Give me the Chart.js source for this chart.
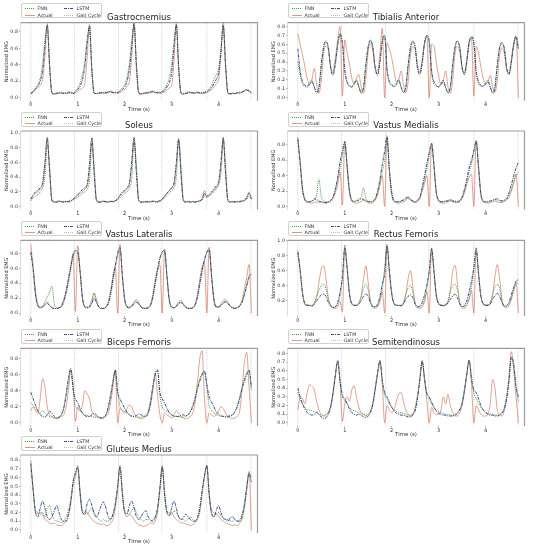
<!DOCTYPE html>
<html>
<head>
<meta charset="utf-8">
<script src="https://cdn.jsdelivr.net/npm/chart.js@4.4.0/dist/chart.umd.min.js"></script>
<style>
  body { margin: 0; background: #fff; }
  #fig { position: relative; width: 533px; height: 550px; overflow: hidden; font-family: 'DejaVu Sans', sans-serif; }
  .panel { position: absolute; }
  .legend { position: absolute; width: 81px; height: 15px; box-sizing: border-box; border: 0.6px solid #d0d0d0; border-radius: 2px; background: #fff; z-index: 2; }
  .legend .it { position: absolute; font-size: 4.8px; line-height: 5px; color: #333; white-space: nowrap; }
  .legend svg { vertical-align: middle; margin-right: 3px; }
</style>
</head>
<body>
<div id="fig"></div>
<script>
// time axis (s)
const TIME = [
  0,.05,.1,.15,.2,.25,.3,.35,.4,.45,
  .5,.55,.6,.65,.7,.75,.8,.85,.9,.95,
  1,1.05,1.1,1.15,1.2,1.25,1.3,1.35,1.4,1.45,
  1.5,1.55,1.6,1.65,1.7,1.75,1.8,1.85,1.9,1.95,
  2,2.05,2.1,2.15,2.2,2.25,2.3,2.35,2.4,2.45,
  2.5,2.55,2.6,2.65,2.7,2.75,2.8,2.85,2.9,2.95,
  3,3.05,3.1,3.15,3.2,3.25,3.3,3.35,3.4,3.45,
  3.5,3.55,3.6,3.65,3.7,3.75,3.8,3.85,3.9,3.95,
  4,4.05,4.1,4.15,4.2,4.25,4.3,4.35,4.4,4.45,
  4.5,4.55,4.6,4.65,4.7
];
const GAIT_CYCLE = [0, 0.93, 1.87, 2.79, 3.75, 4.69];

// Gastrocnemius
const GA_ACTUAL = [
  .05,.07,.10,.12,.15,.22,.50,.90,.40,.05,
  .04,.05,.06,.05,.06,.05,.07,.06,.05,.06,
  .08,.10,.12,.18,.48,.89,.35,.05,.05,.06,
  .05,.06,.07,.06,.08,.07,.06,.06,.06,.08,
  .10,.14,.20,.50,.91,.40,.05,.04,.05,.06,
  .05,.07,.08,.06,.07,.05,.06,.07,.09,.12,
  .15,.45,.90,.38,.05,.04,.05,.06,.07,.06,
  .05,.07,.06,.05,.06,.06,.08,.10,.13,.17,
  .22,.50,.91,.40,.05,.04,.05,.05,.06,.05,
  .07,.09,.10,.08,.05];
const GA_FNN = [
  .06,.08,.12,.16,.24,.40,.70,.86,.35,.06,
  .05,.06,.05,.07,.06,.05,.06,.07,.06,.08,
  .12,.18,.28,.45,.72,.85,.30,.06,.05,.06,
  .07,.06,.05,.07,.08,.06,.07,.06,.09,.12,
  .16,.25,.42,.70,.88,.35,.06,.05,.06,.05,
  .07,.06,.08,.07,.06,.07,.08,.11,.16,.24,
  .40,.68,.87,.33,.06,.05,.06,.07,.06,.05,
  .06,.07,.05,.06,.07,.08,.11,.15,.22,.28,
  .35,.60,.86,.35,.06,.05,.06,.05,.06,.07,
  .06,.08,.10,.09,.06];
const GA_LSTM = [
  .05,.07,.11,.14,.20,.32,.62,.88,.40,.06,
  .05,.05,.06,.06,.05,.06,.06,.06,.05,.07,
  .10,.14,.22,.38,.66,.87,.35,.06,.05,.05,
  .06,.06,.06,.07,.07,.06,.06,.06,.08,.10,
  .13,.20,.34,.62,.90,.40,.06,.05,.05,.06,
  .06,.07,.07,.06,.06,.06,.07,.09,.13,.18,
  .30,.60,.89,.38,.06,.05,.05,.06,.06,.06,
  .06,.06,.06,.06,.06,.07,.09,.12,.17,.22,
  .30,.55,.88,.40,.06,.05,.05,.05,.06,.06,
  .07,.08,.09,.08,.06];

// Tibialis Anterior
const TA_ACTUAL = [
  .72,.60,.48,.35,.22,.15,.20,.33,.15,.05,
  .20,.50,.58,.55,.35,.30,.45,.65,.80,.02,
  .65,.50,.38,.22,.16,.22,.26,.12,.05,.22,
  .52,.60,.52,.33,.30,.50,.78,.00,.62,.55,
  .45,.30,.18,.20,.30,.15,.05,.18,.48,.57,
  .55,.36,.30,.42,.62,.70,.00,.60,.58,.40,
  .25,.15,.20,.30,.12,.05,.20,.50,.58,.52,
  .34,.28,.45,.63,.68,.02,.58,.50,.35,.22,
  .15,.18,.25,.12,.06,.20,.48,.56,.50,.32,
  .28,.44,.62,.68,.00];
const TA_FNN = [
  .40,.25,.15,.13,.13,.18,.20,.12,.05,.10,
  .35,.55,.62,.58,.35,.28,.40,.58,.70,.60,
  .28,.16,.13,.12,.17,.20,.13,.05,.10,.35,
  .56,.63,.57,.34,.27,.42,.62,.68,.30,.16,
  .14,.13,.17,.21,.12,.06,.10,.34,.54,.62,
  .58,.35,.28,.41,.60,.68,.62,.28,.15,.13,
  .12,.16,.20,.12,.05,.11,.35,.55,.63,.58,
  .35,.27,.40,.60,.67,.60,.27,.16,.13,.13,
  .17,.20,.12,.05,.10,.36,.55,.60,.56,.34,
  .27,.40,.58,.68,.55];
const TA_LSTM = [
  .55,.30,.18,.14,.12,.15,.18,.12,.06,.12,
  .38,.58,.64,.55,.33,.25,.38,.60,.72,.62,
  .32,.18,.14,.12,.15,.19,.12,.06,.12,.38,
  .58,.65,.55,.33,.25,.40,.64,.70,.33,.19,
  .15,.12,.15,.19,.12,.06,.12,.37,.57,.64,
  .56,.33,.26,.39,.62,.70,.64,.31,.18,.14,
  .12,.15,.18,.11,.06,.12,.38,.58,.64,.56,
  .34,.26,.40,.62,.69,.62,.30,.18,.14,.13,
  .15,.18,.12,.06,.12,.37,.57,.62,.55,.33,
  .26,.40,.60,.70,.55];

// Soleus
const SO_ACTUAL = [
  .10,.15,.18,.20,.24,.30,.55,.95,.50,.08,
  .06,.07,.08,.07,.06,.07,.06,.07,.10,.12,
  .15,.18,.20,.24,.28,.50,.94,.45,.08,.06,
  .07,.08,.06,.07,.07,.06,.08,.10,.15,.18,
  .20,.24,.30,.55,.95,.48,.08,.06,.07,.06,
  .07,.06,.08,.07,.06,.08,.10,.14,.18,.22,
  .25,.30,.55,.93,.45,.08,.06,.07,.06,.07,
  .06,.07,.08,.10,.22,.12,.15,.18,.22,.26,
  .30,.55,.95,.45,.08,.06,.07,.06,.07,.06,
  .07,.08,.12,.20,.10];
const SO_FNN = [
  .08,.12,.14,.16,.20,.25,.40,.85,.55,.10,
  .07,.06,.07,.06,.07,.06,.07,.08,.09,.11,
  .13,.15,.18,.20,.24,.35,.85,.55,.10,.07,
  .06,.07,.06,.06,.07,.07,.08,.09,.12,.15,
  .18,.20,.25,.38,.88,.55,.10,.07,.06,.06,
  .07,.06,.07,.07,.06,.07,.09,.12,.15,.18,
  .22,.25,.40,.88,.55,.10,.07,.06,.07,.06,
  .06,.07,.07,.09,.14,.13,.15,.17,.20,.24,
  .30,.45,.88,.55,.10,.07,.06,.07,.06,.07,
  .07,.08,.10,.14,.12];
const SO_LSTM = [
  .10,.16,.20,.22,.26,.32,.60,.93,.48,.08,
  .06,.06,.07,.07,.06,.07,.07,.08,.10,.13,
  .16,.20,.23,.26,.30,.58,.93,.45,.08,.06,
  .06,.07,.07,.06,.07,.07,.08,.11,.15,.20,
  .22,.26,.32,.62,.93,.45,.08,.06,.06,.07,
  .06,.07,.07,.06,.07,.08,.10,.14,.18,.22,
  .26,.32,.60,.92,.45,.08,.06,.07,.06,.07,
  .06,.07,.08,.10,.18,.14,.17,.20,.24,.28,
  .34,.60,.93,.45,.08,.06,.07,.06,.07,.07,
  .08,.09,.12,.18,.10];

// Vastus Medialis
const VM_ACTUAL = [
  .90,.55,.20,.08,.05,.05,.04,.05,.06,.05,
  .06,.05,.04,.05,.06,.10,.18,.28,.45,.02,
  .85,.50,.18,.07,.05,.04,.05,.06,.08,.07,
  .05,.04,.05,.08,.15,.28,.40,.00,.92,.45,
  .15,.06,.05,.04,.05,.06,.08,.12,.10,.06,
  .05,.06,.10,.20,.30,.40,.00,.82,.55,.18,
  .07,.05,.04,.05,.06,.07,.06,.05,.05,.06,
  .10,.18,.28,.38,.42,.00,.86,.50,.15,.06,
  .05,.04,.05,.06,.07,.06,.05,.05,.06,.08,
  .12,.20,.30,.42,.00];
const VM_FNN = [
  .85,.60,.25,.10,.07,.06,.07,.08,.15,.35,
  .12,.07,.06,.06,.08,.12,.22,.35,.50,.65,
  .82,.55,.22,.09,.07,.08,.10,.12,.25,.10,
  .07,.06,.07,.10,.18,.30,.45,.60,.88,.50,
  .20,.08,.06,.06,.07,.09,.12,.10,.08,.07,
  .06,.08,.12,.22,.35,.50,.65,.80,.55,.20,
  .08,.06,.06,.07,.08,.09,.08,.07,.07,.08,
  .12,.20,.32,.45,.55,.70,.84,.55,.18,.08,
  .06,.06,.07,.08,.09,.08,.07,.07,.08,.10,
  .15,.22,.32,.40,.45];
const VM_LSTM = [
  .88,.55,.22,.09,.06,.06,.07,.10,.09,.07,
  .06,.05,.05,.06,.08,.12,.22,.38,.58,.72,
  .84,.52,.20,.08,.06,.07,.08,.10,.09,.07,
  .06,.06,.07,.10,.20,.35,.55,.72,.90,.48,
  .18,.07,.06,.06,.07,.08,.10,.12,.09,.07,
  .06,.08,.12,.25,.40,.56,.70,.82,.52,.18,
  .08,.06,.06,.07,.07,.08,.07,.06,.06,.07,
  .12,.22,.35,.50,.60,.72,.85,.50,.16,.07,
  .06,.06,.07,.08,.09,.10,.08,.07,.08,.10,
  .18,.28,.40,.50,.57];

// Vastus Lateralis
const VL_ACTUAL = [
  .92,.60,.25,.10,.07,.08,.12,.15,.10,.07,
  .06,.06,.07,.10,.18,.30,.45,.62,.80,.02,
  .90,.55,.20,.08,.07,.08,.15,.27,.15,.08,
  .06,.06,.08,.15,.30,.50,.62,.00,.92,.50,
  .18,.08,.07,.10,.15,.18,.14,.08,.06,.06,
  .07,.12,.25,.45,.60,.65,.00,.86,.50,.18,
  .08,.07,.10,.15,.17,.12,.08,.06,.06,.07,
  .12,.25,.45,.62,.68,.00,.88,.50,.18,.08,
  .08,.12,.17,.18,.14,.09,.07,.06,.07,.10,
  .18,.32,.48,.65,.00];
const VL_FNN = [
  .80,.62,.30,.12,.08,.10,.15,.22,.28,.36,
  .12,.07,.07,.08,.14,.25,.40,.58,.75,.82,
  .80,.58,.22,.09,.08,.10,.18,.26,.18,.09,
  .07,.07,.08,.12,.24,.42,.60,.78,.85,.52,
  .20,.09,.08,.10,.14,.16,.13,.08,.07,.07,
  .07,.10,.20,.38,.55,.72,.80,.82,.50,.18,
  .08,.07,.09,.13,.15,.11,.08,.07,.07,.07,
  .10,.20,.38,.55,.70,.80,.84,.52,.20,.09,
  .08,.10,.14,.16,.13,.09,.07,.07,.08,.10,
  .15,.26,.38,.50,.52];
const VL_LSTM = [
  .82,.58,.24,.10,.07,.08,.11,.13,.10,.07,
  .06,.06,.07,.09,.16,.28,.45,.62,.78,.84,
  .82,.55,.20,.08,.07,.08,.13,.20,.14,.08,
  .06,.06,.08,.13,.26,.46,.64,.80,.88,.50,
  .18,.08,.07,.09,.12,.14,.12,.08,.06,.06,
  .07,.10,.22,.40,.58,.74,.82,.84,.50,.17,
  .08,.07,.09,.12,.14,.11,.08,.06,.06,.07,
  .11,.22,.40,.58,.72,.82,.86,.50,.18,.08,
  .08,.10,.13,.15,.13,.09,.07,.06,.07,.09,
  .14,.24,.36,.48,.52];

// Rectus Femoris
const RF_ACTUAL = [
  .83,.55,.25,.12,.10,.10,.09,.12,.20,.40,
  .58,.62,.45,.20,.10,.07,.06,.08,.15,.02,
  .90,.60,.25,.12,.10,.10,.12,.22,.45,.62,
  .40,.15,.08,.06,.08,.15,.28,.00,.91,.55,
  .25,.12,.10,.10,.09,.12,.25,.45,.56,.35,
  .12,.07,.06,.08,.15,.28,.00,.86,.55,.22,
  .12,.10,.09,.10,.14,.30,.55,.63,.40,.14,
  .07,.06,.10,.18,.30,.00,.84,.50,.22,.12,
  .10,.10,.12,.25,.48,.64,.45,.18,.08,.07,
  .10,.18,.30,.40,.00];
const RF_FNN = [
  .78,.58,.28,.13,.11,.10,.10,.14,.22,.30,
  .36,.38,.32,.18,.10,.08,.08,.12,.22,.45,
  .85,.62,.28,.13,.11,.10,.14,.22,.32,.38,
  .30,.15,.09,.08,.10,.18,.32,.60,.88,.58,
  .28,.13,.11,.10,.10,.14,.24,.33,.36,.28,
  .14,.08,.08,.10,.18,.32,.55,.82,.58,.25,
  .13,.11,.10,.11,.16,.28,.36,.38,.30,.14,
  .08,.08,.12,.20,.34,.58,.80,.55,.25,.13,
  .11,.11,.14,.24,.34,.38,.32,.16,.09,.09,
  .12,.20,.30,.38,.40];
const RF_LSTM = [
  .80,.56,.26,.12,.10,.10,.09,.12,.16,.20,
  .24,.25,.22,.14,.09,.07,.08,.14,.28,.48,
  .86,.58,.25,.12,.10,.10,.12,.16,.22,.25,
  .22,.13,.08,.08,.12,.22,.38,.52,.88,.55,
  .26,.12,.10,.10,.10,.12,.18,.22,.24,.20,
  .12,.08,.09,.14,.24,.38,.55,.85,.55,.24,
  .12,.10,.10,.11,.13,.18,.22,.25,.20,.12,
  .08,.10,.16,.28,.42,.60,.86,.52,.22,.12,
  .10,.10,.12,.18,.23,.26,.22,.14,.09,.10,
  .14,.24,.34,.42,.44];

// Biceps Femoris
const BF_ACTUAL = [
  .15,.20,.15,.12,.30,.55,.45,.20,.10,.08,
  .06,.05,.06,.08,.10,.20,.40,.65,.50,.02,
  .20,.15,.22,.40,.36,.30,.15,.10,.08,.07,
  .06,.05,.08,.12,.25,.45,.65,.00,.18,.15,
  .12,.18,.22,.20,.12,.08,.06,.05,.06,.08,
  .12,.22,.40,.62,.35,.10,.00,.12,.10,.08,
  .06,.10,.15,.12,.08,.06,.05,.06,.08,.12,
  .25,.50,.80,.90,.30,.00,.12,.10,.08,.10,
  .15,.20,.18,.12,.08,.06,.05,.06,.08,.15,
  .40,.75,.88,.45,.00];
const BF_FNN = [
  .25,.22,.18,.14,.12,.15,.12,.10,.08,.07,
  .06,.06,.07,.10,.18,.32,.50,.66,.45,.20,
  .18,.15,.12,.10,.09,.08,.08,.07,.07,.06,
  .06,.07,.10,.18,.32,.50,.66,.40,.20,.16,
  .14,.12,.10,.09,.08,.07,.07,.07,.08,.10,
  .15,.28,.45,.62,.66,.35,.20,.16,.14,.12,
  .10,.09,.08,.08,.07,.07,.08,.10,.15,.22,
  .32,.45,.55,.62,.65,.45,.22,.16,.12,.10,
  .09,.08,.08,.07,.07,.08,.10,.14,.22,.32,
  .45,.55,.62,.65,.40];
const BF_LSTM = [
  .38,.30,.22,.15,.10,.08,.07,.10,.14,.12,
  .08,.06,.07,.10,.18,.35,.55,.68,.42,.30,
  .25,.18,.12,.09,.08,.08,.10,.12,.10,.07,
  .06,.07,.10,.20,.35,.52,.66,.38,.30,.24,
  .18,.13,.10,.08,.08,.09,.11,.10,.08,.08,
  .12,.25,.45,.60,.66,.38,.30,.25,.18,.13,
  .10,.08,.08,.08,.09,.10,.09,.10,.14,.20,
  .30,.42,.52,.60,.64,.48,.32,.26,.20,.14,
  .11,.09,.08,.08,.08,.09,.10,.14,.20,.30,
  .42,.52,.60,.66,.45];

// Semitendinosus
const ST_ACTUAL = [
  .15,.30,.28,.22,.35,.44,.42,.38,.25,.15,
  .10,.08,.10,.12,.20,.35,.55,.70,.45,.02,
  .22,.30,.25,.38,.43,.30,.18,.12,.10,.08,
  .10,.14,.22,.38,.55,.70,.45,.00,.20,.15,
  .12,.15,.25,.33,.35,.25,.15,.10,.08,.10,
  .18,.32,.50,.70,.50,.25,.00,.18,.12,.10,
  .10,.15,.30,.22,.33,.20,.12,.08,.08,.12,
  .20,.35,.55,.72,.45,.00,.20,.15,.10,.08,
  .08,.10,.22,.50,.40,.15,.10,.08,.15,.30,
  .55,.82,.60,.30,.00];
const ST_FNN = [
  .35,.28,.22,.18,.15,.15,.14,.13,.12,.10,
  .09,.08,.09,.12,.20,.35,.55,.70,.50,.30,
  .26,.22,.18,.15,.14,.13,.12,.11,.10,.09,
  .10,.14,.24,.40,.58,.70,.50,.32,.28,.22,
  .18,.15,.13,.12,.12,.11,.10,.09,.09,.11,
  .16,.30,.50,.70,.52,.32,.28,.22,.18,.15,
  .13,.12,.11,.10,.10,.09,.09,.10,.12,.16,
  .24,.38,.56,.72,.55,.34,.28,.22,.18,.15,
  .12,.11,.10,.10,.09,.09,.10,.12,.18,.30,
  .50,.75,.65,.40,.25];
const ST_LSTM = [
  .40,.30,.22,.16,.12,.10,.09,.10,.12,.10,
  .07,.05,.06,.10,.18,.34,.55,.72,.48,.32,
  .28,.22,.16,.12,.10,.09,.10,.09,.07,.06,
  .08,.12,.22,.40,.58,.72,.48,.35,.30,.24,
  .18,.14,.11,.10,.09,.09,.08,.07,.07,.09,
  .14,.28,.50,.72,.50,.34,.30,.24,.18,.14,
  .11,.10,.09,.09,.08,.08,.08,.09,.11,.15,
  .22,.38,.56,.72,.50,.38,.35,.28,.20,.15,
  .12,.10,.09,.09,.08,.08,.09,.11,.16,.28,
  .48,.76,.68,.42,.30];

// Gluteus Medius
const GM_ACTUAL = [
  .80,.45,.20,.18,.20,.18,.12,.10,.08,.07,
  .08,.06,.05,.05,.07,.10,.15,.30,.50,.60,
  .74,.40,.20,.18,.20,.16,.12,.10,.08,.07,
  .06,.07,.05,.05,.08,.12,.25,.45,.74,.40,
  .20,.15,.18,.16,.12,.08,.06,.05,.04,.05,
  .06,.08,.07,.10,.20,.45,.74,.42,.20,.18,
  .20,.15,.12,.10,.08,.08,.07,.06,.05,.06,
  .08,.12,.20,.40,.60,.74,.40,.18,.15,.18,
  .15,.12,.10,.08,.07,.06,.05,.06,.05,.08,
  .12,.25,.45,.67,.00];
const GM_FNN = [
  .72,.48,.22,.20,.18,.20,.15,.25,.28,.18,
  .12,.10,.10,.08,.10,.15,.22,.35,.55,.65,
  .70,.45,.22,.20,.18,.22,.25,.20,.15,.12,
  .10,.12,.10,.10,.12,.18,.30,.50,.72,.45,
  .22,.20,.18,.22,.26,.20,.15,.12,.10,.12,
  .12,.10,.12,.15,.25,.48,.72,.45,.22,.20,
  .18,.22,.20,.15,.12,.12,.10,.12,.15,.12,
  .10,.14,.25,.45,.62,.72,.45,.22,.20,.18,
  .20,.16,.13,.12,.12,.10,.10,.12,.10,.12,
  .18,.30,.50,.65,.60];
const GM_LSTM = [
  .76,.45,.20,.15,.25,.33,.25,.15,.12,.15,
  .22,.28,.20,.12,.10,.10,.18,.32,.55,.65,
  .72,.42,.20,.18,.30,.35,.28,.18,.15,.20,
  .28,.32,.25,.15,.12,.18,.30,.50,.72,.42,
  .20,.18,.28,.33,.25,.15,.12,.15,.20,.22,
  .15,.12,.10,.14,.25,.48,.72,.40,.20,.16,
  .25,.33,.25,.15,.12,.14,.18,.15,.12,.10,
  .10,.14,.25,.45,.62,.74,.40,.20,.15,.22,
  .28,.20,.14,.12,.10,.14,.15,.12,.10,.10,
  .16,.28,.48,.65,.55];

const MUSCLES = [
  { name: 'Gastrocnemius',     actual: GA_ACTUAL, fnn: GA_FNN, lstm: GA_LSTM, yMin: -0.036, yMax: 0.91,  yStep: 0.2 },
  { name: 'Tibialis Anterior', actual: TA_ACTUAL, fnn: TA_FNN, lstm: TA_LSTM, yMin: -0.034, yMax: 0.843, yStep: 0.1 },
  { name: 'Soleus',            actual: SO_ACTUAL, fnn: SO_FNN, lstm: SO_LSTM, yMin: -0.04,  yMax: 1.03,  yStep: 0.2 },
  { name: 'Vastus Medialis',   actual: VM_ACTUAL, fnn: VM_FNN, lstm: VM_LSTM, yMin: -0.04,  yMax: 0.98,  yStep: 0.2 },
  { name: 'Vastus Lateralis',  actual: VL_ACTUAL, fnn: VL_FNN, lstm: VL_LSTM, yMin: -0.04,  yMax: 0.975, yStep: 0.2 },
  { name: 'Rectus Femoris',    actual: RF_ACTUAL, fnn: RF_FNN, lstm: RF_LSTM, yMin: -0.04,  yMax: 0.96,  yStep: 0.2 },
  { name: 'Biceps Femoris',    actual: BF_ACTUAL, fnn: BF_FNN, lstm: BF_LSTM, yMin: -0.04,  yMax: 0.93,  yStep: 0.2 },
  { name: 'Semitendinosus',    actual: ST_ACTUAL, fnn: ST_FNN, lstm: ST_LSTM, yMin: -0.035, yMax: 0.858, yStep: 0.1 },
  { name: 'Gluteus Medius',    actual: GM_ACTUAL, fnn: GM_FNN, lstm: GM_LSTM, yMin: -0.035, yMax: 0.858, yStep: 0.1 }
];

// layout (page px)
const COL_X = [0, 267];
const ROW_TOP = [22.7, 131, 240.3, 348.3, 455];
const ROW_BOTTOM = [100.7, 209.5, 316, 426, 533];
const TITLE_H = 9.5, XAXIS_H = 12, YAXIS_W = 20.5, PAD_RIGHT = 8.5, PANEL_W = 266;

const C_FNN = '#449c44', C_LSTM = '#283282', C_ACT = 'rgba(210,110,85,0.72)', C_GAIT = '#c4c4c4';

Chart.defaults.font.family = "'DejaVu Sans', sans-serif";
Chart.defaults.color = '#333';

const framePlugin = {
    id: 'frame',
    afterDraw: function(chart) {
        const ctx = chart.ctx, a = chart.chartArea;
        ctx.save();
        ctx.strokeStyle = '#d4d4d4';
        ctx.lineWidth = 0.8;
        ctx.beginPath();
        ctx.moveTo(a.left, a.top);
        ctx.lineTo(a.left, a.bottom);
        ctx.stroke();
        ctx.strokeStyle = '#9c9c9c';
        ctx.lineWidth = 1.2;
        ctx.beginPath();
        ctx.moveTo(a.left, a.top);
        ctx.lineTo(a.right, a.top);
        ctx.lineTo(a.right, a.bottom);
        ctx.stroke();
        ctx.restore();
    }
};

function sample(color, dash, width) {
    return `<svg width="10" height="3"><line x1="0" y1="1.5" x2="10" y2="1.5" stroke="${color}" stroke-width="${width}" stroke-dasharray="${dash}"/></svg>`;
}

function addLegend(fig, left, top) {
    const lg = document.createElement('div');
    lg.className = 'legend';
    lg.style.left = left + 'px';
    lg.style.top = top + 'px';
    lg.innerHTML =
        `<div class="it" style="left:2.5px;top:2px">${sample(C_FNN, '1,1', 1)}FNN</div>` +
        `<div class="it" style="left:41.5px;top:2px">${sample(C_LSTM, '3,1,1,1', 0.9)}LSTM</div>` +
        `<div class="it" style="left:2.5px;top:8.5px">${sample(C_ACT, 'none', 1)}Actual</div>` +
        `<div class="it" style="left:41.5px;top:8.5px">${sample('#aaa', '1,1', 0.8)}Gait Cycle</div>`;
    fig.appendChild(lg);
}

function toPoints(values) {
    return TIME.map((t, i) => ({ x: t, y: values[i] }));
}

function gaitPoints() {
    const pts = [];
    GAIT_CYCLE.forEach(g => {
        pts.push({ x: g, y: -1 }, { x: g, y: 2 }, { x: g, y: null });
    });
    return pts;
}

function drawPanel(fig, m, idx) {
    const col = idx % 2, row = Math.floor(idx / 2);
    const left = COL_X[col];
    const top = ROW_TOP[row] - TITLE_H;
    const ct = Math.floor(top);
    const bottom = ROW_BOTTOM[row] + XAXIS_H;
    const h = Math.ceil(bottom) - ct;

    const wrap = document.createElement('div');
    wrap.className = 'panel';
    wrap.style.left = left + 'px';
    wrap.style.top = ct + 'px';
    const cv = document.createElement('canvas');
    cv.width = PANEL_W;
    cv.height = h;
    cv.style.width = PANEL_W + 'px';
    cv.style.height = h + 'px';
    wrap.appendChild(cv);
    fig.appendChild(wrap);

    addLegend(fig, left + 21, ROW_TOP[row] - 19.5);

    new Chart(cv, {
        type: 'line',
        data: {
            datasets: [
                { label: 'LSTM', data: toPoints(m.lstm), borderColor: C_LSTM, borderWidth: 0.9, borderDash: [3, 1, 1, 1], order: 1 },
                { label: 'FNN', data: toPoints(m.fnn), borderColor: C_FNN, borderWidth: 1, borderDash: [1, 1], order: 2 },
                { label: 'Actual', data: toPoints(m.actual), borderColor: C_ACT, borderWidth: 0.9, order: 3 },
                { label: 'Gait Cycle', data: gaitPoints(), borderColor: C_GAIT, borderWidth: 0.8, borderDash: [1, 1.2], spanGaps: false, order: 4 }
            ]
        },
        options: {
            responsive: false,
            animation: false,
            events: [],
            cubicInterpolationMode: 'monotone',
            elements: { point: { radius: 0 }, line: { fill: false } },
            layout: { padding: { left: 0, right: PAD_RIGHT, top: top - ct, bottom: h - (bottom - ct) } },
            plugins: {
                legend: { display: false },
                tooltip: { enabled: false },
                title: {
                    display: true,
                    text: m.name,
                    fullSize: false,
                    color: '#222',
                    font: { size: 8.5, weight: 'normal', lineHeight: 1 },
                    padding: { top: 0, bottom: 1 }
                }
            },
            scales: {
                x: {
                    type: 'linear',
                    min: -0.22,
                    max: 4.83,
                    afterFit: function(s) { s.height = XAXIS_H; },
                    border: { display: false },
                    grid: { drawOnChartArea: false, tickLength: 1.5, color: '#777', lineWidth: 0.6 },
                    ticks: { stepSize: 1, includeBounds: false, padding: 0, font: { size: 5 }, maxRotation: 0 },
                    title: { display: true, text: 'Time (s)', font: { size: 5.4, lineHeight: 1.2 }, padding: { top: 0, bottom: 0 } }
                },
                y: {
                    min: m.yMin,
                    max: m.yMax,
                    afterFit: function(s) { s.width = YAXIS_W; },
                    afterBuildTicks: function(s) {
                        s.ticks = s.ticks.filter(t => t.value >= -1e-9 && t.value <= m.yMax + 1e-9);
                    },
                    border: { display: false },
                    grid: { drawOnChartArea: false, tickLength: 1.5, color: '#777', lineWidth: 0.6 },
                    ticks: { stepSize: m.yStep, includeBounds: false, padding: 1, font: { size: 4.8 },
                             callback: v => v.toFixed(1) },
                    title: { display: true, text: 'Normalized EMG', font: { size: 5, lineHeight: 1.2 }, padding: { top: 4, bottom: 0 } }
                }
            }
        },
        plugins: [framePlugin]
    });
}

const fig = document.getElementById('fig');
MUSCLES.forEach((m, i) => drawPanel(fig, m, i));
</script>
</body>
</html>
